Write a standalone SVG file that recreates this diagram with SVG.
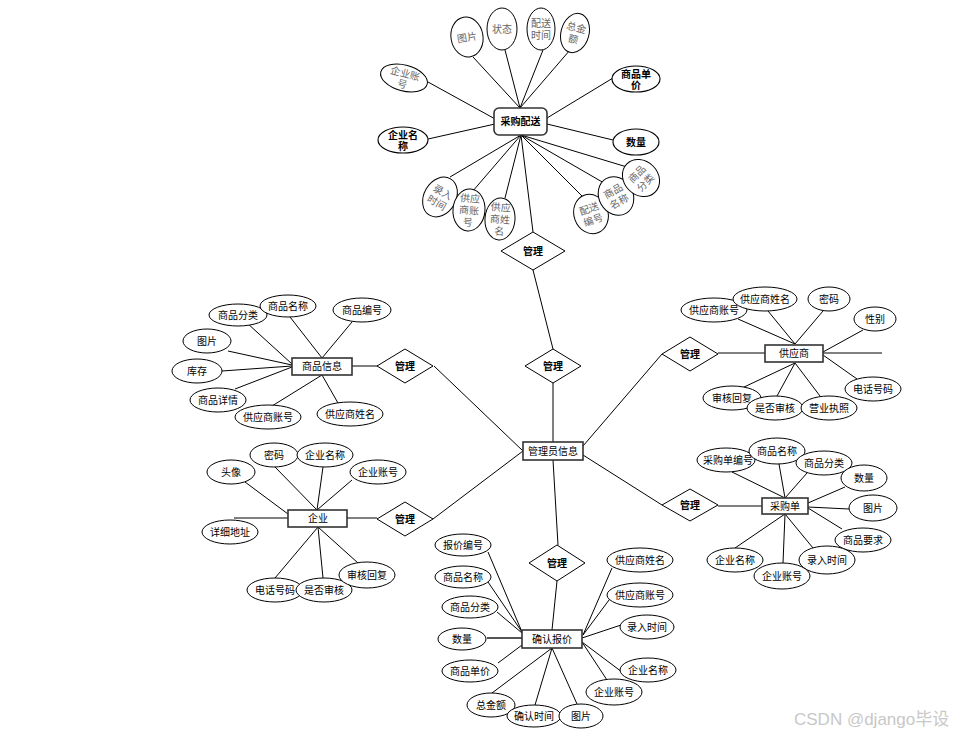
<svg xmlns="http://www.w3.org/2000/svg" width="959" height="736" viewBox="0 0 959 736">
<style>
.a{fill:#fff;stroke:#000;stroke-width:1}
.k{stroke-width:1.15}
.e{fill:#fff;stroke:#333;stroke-width:1.6}
.r{fill:#fff;stroke:#000;stroke-width:1}
.c line{stroke:#000;stroke-width:1}
text{font-family:"Liberation Sans","Noto Sans CJK SC",sans-serif;font-size:10px;fill:#000;text-anchor:middle}
.g{fill:#666;font-size:10px}
.b{font-weight:bold}
.w{fill:#c8c8c8;font-size:17px;text-anchor:start}
</style>
<rect width="959" height="736" fill="#fff"/>
<g id="connectors" class="c">
<line x1="473" y1="57" x2="520" y2="108"/>
<line x1="505" y1="50" x2="520" y2="108"/>
<line x1="543" y1="50" x2="520" y2="108"/>
<line x1="570" y1="50" x2="520" y2="108"/>
<line x1="428" y1="82" x2="497" y2="120"/>
<line x1="613" y1="78" x2="547" y2="118"/>
<line x1="428" y1="139" x2="495" y2="124"/>
<line x1="547" y1="124" x2="613" y2="140"/>
<line x1="450" y1="177" x2="521" y2="135"/>
<line x1="472" y1="192" x2="521" y2="135"/>
<line x1="505" y1="198" x2="521" y2="135"/>
<line x1="582" y1="196" x2="521" y2="135"/>
<line x1="604" y1="183" x2="521" y2="135"/>
<line x1="627" y1="167" x2="521" y2="135"/>
<line x1="521" y1="135" x2="533" y2="232"/>
<line x1="533" y1="270" x2="553" y2="349"/>
<line x1="553" y1="383" x2="553" y2="442"/>
<line x1="434" y1="366" x2="523" y2="451"/>
<line x1="433" y1="519" x2="523" y2="451"/>
<line x1="583" y1="446" x2="662" y2="354"/>
<line x1="583" y1="455" x2="662" y2="505"/>
<line x1="553" y1="460" x2="558" y2="545"/>
<line x1="557" y1="581" x2="552" y2="630"/>
<line x1="352" y1="366" x2="378" y2="366"/>
<line x1="247" y1="323" x2="292" y2="364"/>
<line x1="228" y1="351" x2="292" y2="365"/>
<line x1="222" y1="371" x2="292" y2="366"/>
<line x1="235" y1="389" x2="292" y2="367"/>
<line x1="272" y1="406" x2="322" y2="375"/>
<line x1="338" y1="403" x2="322" y2="375"/>
<line x1="290" y1="317" x2="322" y2="358"/>
<line x1="352" y1="322" x2="322" y2="358"/>
<line x1="718" y1="353" x2="765" y2="353"/>
<line x1="823" y1="353" x2="882" y2="353"/>
<line x1="738" y1="319" x2="795" y2="344"/>
<line x1="768" y1="311" x2="795" y2="344"/>
<line x1="823" y1="311" x2="795" y2="344"/>
<line x1="863" y1="330" x2="823" y2="352"/>
<line x1="857" y1="379" x2="823" y2="355"/>
<line x1="742" y1="388" x2="795" y2="363"/>
<line x1="777" y1="396" x2="795" y2="363"/>
<line x1="820" y1="396" x2="795" y2="363"/>
<line x1="347" y1="518" x2="377" y2="518"/>
<line x1="275" y1="467" x2="317" y2="510"/>
<line x1="323" y1="467" x2="317" y2="510"/>
<line x1="352" y1="480" x2="317" y2="510"/>
<line x1="245" y1="482" x2="288" y2="514"/>
<line x1="234" y1="518" x2="288" y2="518"/>
<line x1="275" y1="578" x2="318" y2="527"/>
<line x1="323" y1="578" x2="318" y2="527"/>
<line x1="358" y1="563" x2="318" y2="527"/>
<line x1="718" y1="506" x2="762" y2="506"/>
<line x1="732" y1="472" x2="785" y2="498"/>
<line x1="779" y1="464" x2="785" y2="498"/>
<line x1="807" y1="473" x2="785" y2="498"/>
<line x1="845" y1="487" x2="808" y2="503"/>
<line x1="849" y1="509" x2="808" y2="507"/>
<line x1="842" y1="529" x2="808" y2="508"/>
<line x1="735" y1="548" x2="785" y2="514"/>
<line x1="783" y1="563" x2="785" y2="514"/>
<line x1="813" y1="548" x2="785" y2="514"/>
<line x1="488" y1="552" x2="522" y2="632"/>
<line x1="488" y1="582" x2="522" y2="632"/>
<line x1="497" y1="612" x2="522" y2="633"/>
<line x1="487" y1="638" x2="522" y2="638" style="stroke-width:2;stroke:#555"/>
<line x1="498" y1="663" x2="522" y2="645"/>
<line x1="492" y1="693" x2="552" y2="648"/>
<line x1="535" y1="705" x2="552" y2="648"/>
<line x1="577" y1="704" x2="552" y2="648"/>
<line x1="607" y1="680" x2="582" y2="642"/>
<line x1="622" y1="672" x2="582" y2="642"/>
<line x1="621" y1="625" x2="582" y2="638"/>
<line x1="612" y1="596" x2="583" y2="635"/>
<line x1="612" y1="568" x2="583" y2="635"/>
</g>
<!-- 采购配送 cluster -->
<g id="caigoupeisong"><rect class="e" x="494" y="108" width="53" height="27" rx="5"/><text x="520.5" y="125" class="b">采购配送</text></g>
<g id="pc-tupian" transform="translate(467,37) rotate(-10)"><ellipse class="a" rx="16" ry="20"/><text class="g" y="4">图片</text></g>
<g id="pc-zhuangtai" transform="translate(502,29)"><ellipse class="a" rx="15" ry="21"/><text class="g" y="4">状态</text></g>
<g id="pc-peisongshijian" transform="translate(541,29)"><ellipse class="a" rx="14" ry="21"/><text class="g" y="-2">配送</text><text class="g" y="10">时间</text></g>
<g id="pc-zongjine" transform="translate(575,33) rotate(15)"><ellipse class="a" rx="14" ry="20"/><text class="g" y="-2">总金</text><text class="g" y="10">额</text></g>
<g id="pc-qiyezhanghao" transform="translate(404,78) rotate(15)"><ellipse class="a" rx="24" ry="13"/><text class="g" y="-1">企业账</text><text class="g" y="10">号</text></g>
<g id="pc-shangpindanjia" transform="translate(636,79)"><ellipse class="a k" rx="24" ry="13"/><text y="-1" class="b">商品单</text><text y="10" class="b">价</text></g>
<g id="pc-qiyemingcheng" transform="translate(403,140)"><ellipse class="a k" rx="25" ry="13"/><text y="-1" class="b">企业名</text><text y="10" class="b">称</text></g>
<g id="pc-shuliang" transform="translate(636,142)"><ellipse class="a k" rx="23" ry="13"/><text y="4" class="b">数量</text></g>
<g id="pc-lurushijian" transform="translate(440,197) rotate(30)"><ellipse class="a" rx="16" ry="21"/><text class="g" y="-2">录入</text><text class="g" y="10">时间</text></g>
<g id="pc-gysh" transform="translate(469,210) rotate(5)"><ellipse class="a" rx="16" ry="21"/><text class="g" y="-8">供应</text><text class="g" y="4">商账</text><text class="g" y="16">号</text></g>
<g id="pc-gysxm" transform="translate(500,219) rotate(4)"><ellipse class="a" rx="15" ry="21"/><text class="g" y="-8">供应</text><text class="g" y="4">商姓</text><text class="g" y="16">名</text></g>
<g id="pc-peisongbianhao" transform="translate(591,214) rotate(-20)"><ellipse class="a" rx="17" ry="20"/><text class="g" y="-2">配送</text><text class="g" y="10">编号</text></g>
<g id="pc-shangpinmingcheng" transform="translate(616,196) rotate(-30)"><ellipse class="a" rx="17" ry="20"/><text class="g" y="-2">商品</text><text class="g" y="10">名称</text></g>
<g id="pc-shangpinfenlei" transform="translate(641,178) rotate(-45)"><ellipse class="a" rx="17" ry="20"/><text class="g" y="-2">商品</text><text class="g" y="10">分类</text></g>
<!-- diamonds -->
<g id="rel1"><polygon class="r" points="501,251 533,232 565,251 533,270"/><text x="533" y="255" class="b">管理</text></g>
<g id="rel2"><polygon class="r" points="525,366 553,349 581,366 553,383"/><text x="553" y="370" class="b">管理</text></g>
<g id="rel3"><polygon class="r" points="377,366 405,349 433,366 405,383"/><text x="405" y="370" class="b">管理</text></g>
<g id="rel4"><polygon class="r" points="377,519 405,502 433,519 405,536"/><text x="405" y="523" class="b">管理</text></g>
<g id="rel5"><polygon class="r" points="662,354 690,337 718,354 690,371"/><text x="690" y="358" class="b">管理</text></g>
<g id="rel6"><polygon class="r" points="662,505 690,489 718,505 690,521"/><text x="690" y="509" class="b">管理</text></g>
<g id="rel7"><polygon class="r" points="529,563 557,545 585,563 557,581"/><text x="557" y="567" class="b">管理</text></g>
<!-- 管理员信息 -->
<g id="guanliyuan"><rect class="e" x="523" y="442" width="60" height="18"/><text x="553" y="455">管理员信息</text></g>
<!-- 商品信息 -->
<g id="shangpinxinxi"><rect class="e" x="292" y="358" width="60" height="17"/><text x="322" y="370">商品信息</text></g>
<g id="sp-fenlei"><ellipse class="a" cx="238" cy="315" rx="29" ry="11"/><text x="238" y="319">商品分类</text></g>
<g id="sp-mingcheng"><ellipse class="a" cx="288" cy="306" rx="28" ry="11"/><text x="288" y="310">商品名称</text></g>
<g id="sp-bianhao"><ellipse class="a" cx="362" cy="310" rx="29" ry="12"/><text x="362" y="314">商品编号</text></g>
<g id="sp-tupian"><ellipse class="a" cx="207" cy="341" rx="24" ry="12"/><text x="207" y="345">图片</text></g>
<g id="sp-kucun"><ellipse class="a" cx="197" cy="371" rx="25" ry="12"/><text x="197" y="375">库存</text></g>
<g id="sp-xiangqing"><ellipse class="a" cx="218" cy="400" rx="28" ry="12"/><text x="218" y="404">商品详情</text></g>
<g id="sp-gyszh"><ellipse class="a" cx="268" cy="417" rx="33" ry="12"/><text x="268" y="421">供应商账号</text></g>
<g id="sp-gysxm"><ellipse class="a" cx="350" cy="414" rx="33" ry="12"/><text x="350" y="418">供应商姓名</text></g>
<!-- 供应商 -->
<g id="gongyingshang"><rect class="e" x="765" y="345" width="58" height="17"/><text x="794" y="357">供应商</text></g>
<g id="gy-zh"><ellipse class="a" cx="714" cy="310" rx="33" ry="12"/><text x="714" y="314">供应商账号</text></g>
<g id="gy-xm"><ellipse class="a" cx="765" cy="299" rx="32" ry="12"/><text x="765" y="303">供应商姓名</text></g>
<g id="gy-mima"><ellipse class="a" cx="829" cy="299" rx="21" ry="12"/><text x="829" y="303">密码</text></g>
<g id="gy-xingbie"><ellipse class="a" cx="875" cy="319" rx="21" ry="12"/><text x="875" y="323">性别</text></g>
<g id="gy-dianhua"><ellipse class="a" cx="873" cy="389" rx="28" ry="12"/><text x="873" y="393">电话号码</text></g>
<g id="gy-shenhehuifu"><ellipse class="a" cx="732" cy="398" rx="29" ry="12"/><text x="732" y="402">审核回复</text></g>
<g id="gy-shifoushenhe"><ellipse class="a" cx="775" cy="408" rx="28" ry="12"/><text x="775" y="412">是否审核</text></g>
<g id="gy-yingye"><ellipse class="a" cx="829" cy="408" rx="28" ry="12"/><text x="829" y="412">营业执照</text></g>
<!-- 企业 -->
<g id="qiye"><rect class="e" x="288" y="510" width="59" height="17"/><text x="318" y="522">企业</text></g>
<g id="qy-mima"><ellipse class="a" cx="274" cy="455" rx="24" ry="12"/><text x="274" y="459">密码</text></g>
<g id="qy-mingcheng"><ellipse class="a" cx="325" cy="455" rx="28" ry="12"/><text x="325" y="459">企业名称</text></g>
<g id="qy-zhanghao"><ellipse class="a" cx="378" cy="472" rx="28" ry="12"/><text x="378" y="476">企业账号</text></g>
<g id="qy-touxiang"><ellipse class="a" cx="231" cy="472" rx="24" ry="12"/><text x="231" y="476">头像</text></g>
<g id="qy-dizhi"><ellipse class="a" cx="230" cy="532" rx="28" ry="12"/><text x="230" y="536">详细地址</text></g>
<g id="qy-dianhua"><ellipse class="a" cx="275" cy="590" rx="28" ry="12"/><text x="275" y="594">电话号码</text></g>
<g id="qy-shifou"><ellipse class="a" cx="324" cy="590" rx="28" ry="12"/><text x="324" y="594">是否审核</text></g>
<g id="qy-huifu"><ellipse class="a" cx="367" cy="575" rx="28" ry="13"/><text x="367" y="579">审核回复</text></g>
<!-- 采购单 -->
<g id="caigoudan"><rect class="e" x="762" y="498" width="46" height="16"/><text x="785" y="510">采购单</text></g>
<g id="cg-bianhao"><ellipse class="a" cx="726" cy="460" rx="29" ry="12"/><text x="728" y="464">采购单编号</text></g>
<g id="cg-mingcheng"><ellipse class="a" cx="777" cy="451" rx="28" ry="13"/><text x="777" y="455">商品名称</text></g>
<g id="cg-fenlei"><ellipse class="a" cx="824" cy="463" rx="28" ry="12"/><text x="824" y="467">商品分类</text></g>
<g id="cg-shuliang"><ellipse class="a" cx="864" cy="478" rx="23" ry="13"/><text x="864" y="482">数量</text></g>
<g id="cg-tupian"><ellipse class="a" cx="873" cy="508" rx="24" ry="13"/><text x="873" y="512">图片</text></g>
<g id="cg-yaoqiu"><ellipse class="a" cx="863" cy="540" rx="28" ry="12"/><text x="863" y="544">商品要求</text></g>
<g id="cg-luru"><ellipse class="a" cx="827" cy="560" rx="28" ry="14"/><text x="827" y="564">录入时间</text></g>
<g id="cg-zhanghao"><ellipse class="a" cx="782" cy="576" rx="28" ry="13"/><text x="782" y="580">企业账号</text></g>
<g id="cg-mingcheng2"><ellipse class="a" cx="735" cy="560" rx="28" ry="12"/><text x="735" y="564">企业名称</text></g>
<!-- 确认报价 -->
<g id="querenbaojia"><rect class="e" x="522" y="630" width="60" height="18"/><text x="552" y="643">确认报价</text></g>
<g id="bj-bianhao"><ellipse class="a" cx="463" cy="545" rx="28" ry="11"/><text x="463" y="549">报价编号</text></g>
<g id="bj-mingcheng"><ellipse class="a" cx="463" cy="577" rx="28" ry="11"/><text x="463" y="581">商品名称</text></g>
<g id="bj-fenlei"><ellipse class="a" cx="470" cy="607" rx="28" ry="11"/><text x="470" y="611">商品分类</text></g>
<g id="bj-shuliang"><ellipse class="a" cx="462" cy="639" rx="24" ry="11"/><text x="462" y="643">数量</text></g>
<g id="bj-danjia"><ellipse class="a" cx="470" cy="671" rx="28" ry="11"/><text x="470" y="675">商品单价</text></g>
<g id="bj-zongjine"><ellipse class="a" cx="491" cy="705" rx="24" ry="12"/><text x="491" y="709">总金额</text></g>
<g id="bj-queren"><ellipse class="a" cx="534" cy="716" rx="27" ry="11"/><text x="534" y="720">确认时间</text></g>
<g id="bj-tupian"><ellipse class="a" cx="581" cy="716" rx="22" ry="12"/><text x="581" y="720">图片</text></g>
<g id="bj-zhanghao"><ellipse class="a" cx="614" cy="692" rx="28" ry="13"/><text x="614" y="696">企业账号</text></g>
<g id="bj-qymingcheng"><ellipse class="a" cx="648" cy="670" rx="28" ry="12"/><text x="648" y="674">企业名称</text></g>
<g id="bj-luru"><ellipse class="a" cx="647" cy="627" rx="27" ry="12"/><text x="647" y="631">录入时间</text></g>
<g id="bj-gyszh"><ellipse class="a" cx="640" cy="595" rx="33" ry="12"/><text x="640" y="599">供应商账号</text></g>
<g id="bj-gysxm"><ellipse class="a" cx="640" cy="560" rx="33" ry="12"/><text x="640" y="564">供应商姓名</text></g>
<text class="w" x="794" y="725">CSDN @django毕设</text>
</svg>
